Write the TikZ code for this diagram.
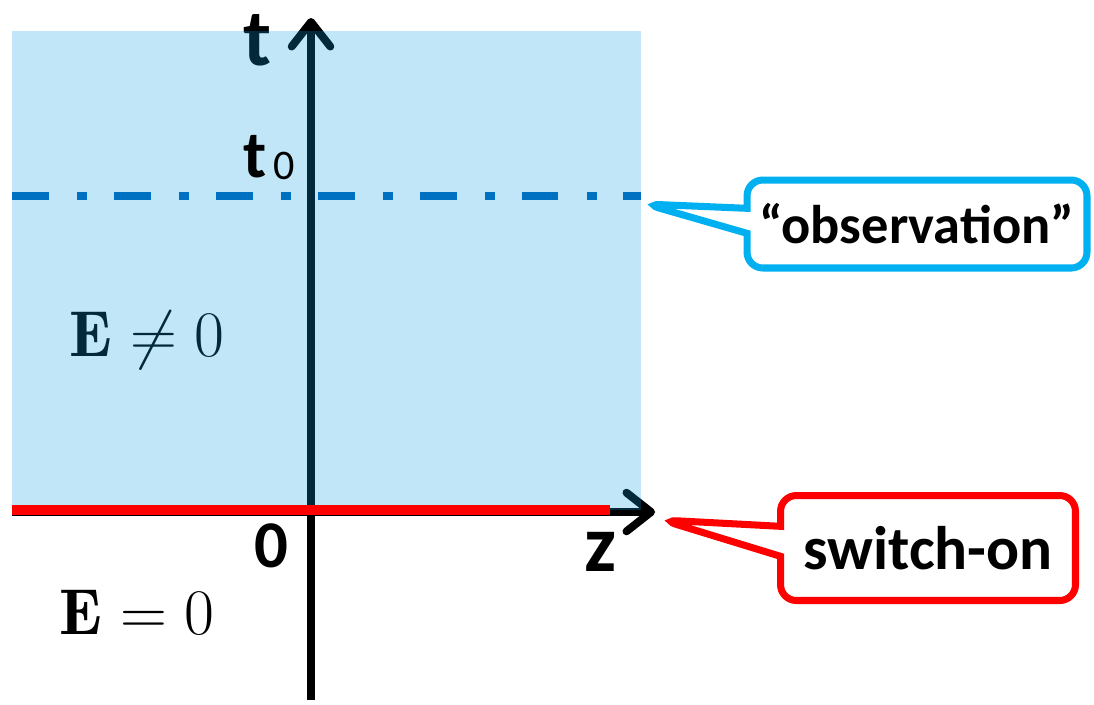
\RequirePackage{fix-cm}
\documentclass[tikz,border=0pt]{standalone}
\usepackage{amsmath}
\usepackage{fontspec}
\setsansfont{Carlito}
\usetikzlibrary{arrows.meta,shapes.callouts}
\definecolor{fieldcyan}{RGB}{10,160,225}
\definecolor{obsblue}{RGB}{0,112,192}
\definecolor{calloutcyan}{RGB}{0,176,240}
\definecolor{switchred}{RGB}{255,0,0}
\tikzset{
  axisline/.style={draw=black,line width=4.5pt,
    -{Straight Barb[length=14pt,width=22pt,round]}},
  axislabel/.style={font=\sffamily\bfseries\fontsize{46}{50}\selectfont,inner sep=0pt},
  ticklabel/.style={font=\sffamily\bfseries\fontsize{38}{42}\selectfont,inner sep=0pt},
  fieldlabel/.style={font=\fontsize{37}{40}\selectfont,inner sep=0pt},
  fieldbox/.style={fill=fieldcyan,fill opacity=0.26},
  onsetline/.style={draw=switchred,line width=6pt},
  obsline/.style={draw=obsblue,line width=5pt,
    dash pattern=on 21pt off 16pt on 5.7pt off 15.3pt},
  notebox/.style={rectangle callout,fill=white,line width=4pt,rounded corners=9pt,
    align=center},
}
\begin{document}
\begin{tikzpicture}[x=0.02cm,y=-0.02cm]
  \useasboundingbox (0,0) rectangle (1094,704);
  % --- Ecken und Achsenenden ---
  \coordinate (fieldNW) at (12,31);
  \coordinate (fieldSE) at (641,510);
  \coordinate (tbot)    at (311,700);
  \coordinate (ttop)    at (311,18);
  \coordinate (zleft)   at (12,512);
  \coordinate (zright)  at (655,512);
  \coordinate (onL)     at (12,510);
  \coordinate (onR)     at (610,510);
  \coordinate (obsL)    at (12,196);
  \coordinate (obsR)    at (641,196);
  \coordinate (obstip)  at (645,204);
  \coordinate (ontip)   at (662,520);
  % --- unter dem Feld ---
  \draw[axisline] (tbot) -- (ttop);
  \draw[axisline] (zleft) -- (zright);
  \node[axislabel] (tlab) at (258,40) {t};
  \node[fieldlabel] (Enz) at (147,340) {$\mathbf{E}\neq 0$};
  % --- Feld E ungleich 0 ---
  \fill[fieldbox] (fieldNW) rectangle (fieldSE);
  % --- Linien und Beschriftungen ---
  \draw[obsline] (obsL) -- (obsR);
  \draw[onsetline] (onL) -- (onR);
  \node[ticklabel,anchor=base west] (tzero) at (243,177) {t};
  \node[font=\sffamily\fontsize{24}{26}\selectfont,inner sep=0pt,anchor=base west]
    (tsub) at (273,179) {0};
  \node[ticklabel] (zero) at (271,546) {0};
  \node[axislabel] (zlab) at (601,552) {z};
  \node[fieldlabel] (Ez) at (137,612) {$\mathbf{E}=0$};
  % --- Sprechblasen ---
  \node[notebox,draw=calloutcyan,callout absolute pointer=(obstip),
    font=\sffamily\bfseries\fontsize{31}{34}\selectfont,
    callout pointer width=0.5cm,minimum width=6.8cm,minimum height=1.76cm]
    (obsnote) at (917,224) {“observation”};
  \node[notebox,draw=switchred,callout absolute pointer=(ontip),
    font=\sffamily\bfseries\fontsize{35}{38}\selectfont,
    callout pointer width=0.6cm,minimum width=5.9cm,minimum height=2.1cm]
    (onnote) at (928,548) {switch-on};
\end{tikzpicture}
\end{document}
